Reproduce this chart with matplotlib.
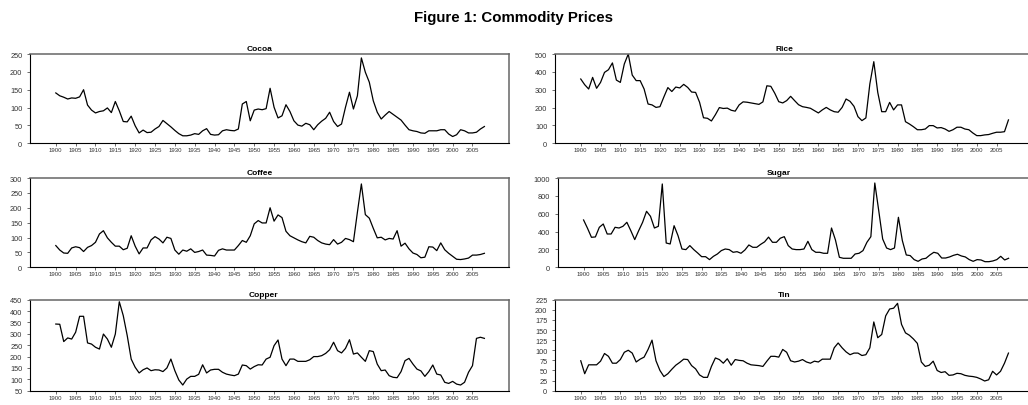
import numpy as np
import matplotlib
matplotlib.use("Agg")
import matplotlib.pyplot as plt

plt.rcParams['font.family'] = ['Liberation Sans', 'DejaVu Sans']

years = np.arange(1900, 2009)

cocoa = [141, 133, 129, 124, 127, 126, 130, 150, 107, 93,
         85, 89, 91, 99, 86, 117, 91, 61, 60, 76,
         49, 29, 37, 30, 31, 40, 47, 64, 55, 46,
         36, 27, 21, 21, 23, 27, 25, 35, 41, 25,
         23, 24, 35, 38, 36, 35, 40, 110, 117, 63,
         93, 96, 94, 97, 154, 101, 71, 77, 108, 89,
         63, 51, 48, 56, 52, 38, 52, 62, 70, 87,
         61, 47, 54, 101, 143, 96, 133, 239, 199, 171,
         119, 87, 68, 79, 89, 81, 73, 65, 51, 38,
         35, 33, 29, 28, 35, 35, 35, 38, 38, 26,
         19, 24, 38, 35, 29, 29, 31, 40, 47]

rice = [360, 328, 304, 369, 308, 341, 397, 412, 450, 354,
        341, 444, 500, 382, 351, 351, 304, 220, 215, 201,
        205, 260, 312, 290, 315, 310, 330, 313, 287, 285,
        230, 143, 140, 125, 160, 200, 195, 197, 185, 180,
        215, 232, 230, 226, 222, 218, 232, 322, 319, 280,
        233, 226, 239, 263, 239, 216, 205, 201, 196, 183,
        170, 187, 201, 187, 177, 174, 201, 248, 235, 207,
        149, 127, 142, 332, 457, 285, 177, 177, 229, 187,
        215, 215, 121, 108, 93, 76, 76, 80, 99, 99,
        86, 88, 80, 67, 76, 90, 90, 80, 76, 58,
        43, 43, 47, 49, 56, 62, 62, 65, 131]

coffee = [73, 58, 48, 47, 65, 69, 66, 53, 67, 73,
          84, 112, 123, 99, 84, 71, 71, 59, 64, 106,
          71, 45, 65, 65, 92, 103, 95, 82, 101, 97,
          58, 44, 58, 54, 62, 50, 53, 58, 41, 40,
          38, 57, 62, 58, 58, 58, 73, 90, 84, 106,
          146, 157, 149, 149, 200, 155, 176, 167, 121, 106,
          99, 92, 86, 82, 104, 101, 90, 82, 78, 76,
          93, 78, 84, 97, 93, 86, 185, 280, 177, 165,
          131, 99, 101, 92, 97, 95, 123, 71, 81, 62,
          48, 43, 32, 34, 69, 68, 56, 82, 59, 47,
          37, 27, 26, 28, 31, 41, 41, 43, 47]

sugar = [530, 437, 336, 340, 448, 485, 373, 373, 448, 440,
         459, 504, 410, 310, 410, 504, 627, 571, 440, 459,
         933, 272, 261, 466, 354, 205, 198, 243, 198, 160,
         119, 119, 86, 123, 149, 187, 205, 198, 168, 175,
         157, 194, 250, 224, 224, 257, 285, 338, 280, 280,
         326, 343, 243, 205, 198, 198, 205, 291, 198, 168,
         168, 157, 157, 440, 306, 112, 101, 101, 101, 149,
         157, 187, 280, 343, 944, 634, 317, 216, 198, 216,
         560, 299, 138, 131, 86, 67, 93, 101, 138, 168,
         157, 104, 104, 116, 134, 146, 127, 116, 86, 67,
         86, 82, 63, 63, 71, 86, 123, 82, 101]

copper = [343, 342, 266, 282, 277, 307, 377, 377, 260, 255,
          241, 233, 299, 277, 241, 299, 441, 380, 292, 189,
          153, 128, 142, 150, 138, 142, 141, 134, 150, 189,
          138, 97, 75, 101, 113, 113, 122, 164, 128, 141,
          144, 144, 131, 123, 119, 116, 123, 163, 160, 145,
          156, 164, 163, 189, 197, 248, 273, 189, 160, 189,
          189, 179, 179, 179, 186, 200, 200, 204, 214, 230,
          263, 226, 216, 236, 274, 211, 216, 197, 179, 226,
          222, 167, 138, 141, 116, 109, 107, 134, 182, 192,
          167, 145, 137, 113, 134, 163, 123, 119, 87, 82,
          91, 79, 75, 87, 131, 160, 280, 285, 280]

tin = [74, 42, 64, 64, 64, 73, 92, 85, 68, 68,
       77, 95, 100, 93, 71, 78, 83, 102, 125, 74,
       50, 35, 42, 53, 63, 70, 78, 77, 62, 54,
       39, 33, 33, 60, 81, 77, 68, 79, 63, 77,
       75, 74, 68, 64, 63, 62, 60, 73, 85, 85,
       83, 102, 95, 74, 71, 73, 77, 71, 68, 73,
       71, 78, 78, 78, 106, 118, 106, 96, 89, 93,
       93, 87, 89, 106, 170, 131, 139, 185, 202, 204,
       216, 164, 143, 137, 128, 117, 71, 60, 63, 73,
       50, 45, 47, 38, 39, 43, 42, 38, 36, 35,
       33, 29, 24, 27, 48, 39, 48, 68, 93]

W, H = 1028, 406

# name, values, (left, right, top, bottom) in pixels, y range, y step, title x
panels = [
    ("Cocoa", cocoa, (30, 509, 55, 144.3), (0, 250), 50, 260),
    ("Rice", rice, (555, 1033, 55, 144.3), (0, 500), 100, 784),
    ("Coffee", coffee, (30, 509, 179, 268.3), (0, 300), 50, 260),
    ("Sugar", sugar, (558, 1033, 179, 268.3), (0, 1000), 200, 779),
    ("Copper", copper, (30, 509, 300.7, 391.7), (50, 450), 50, 263),
    ("Tin", tin, (555, 1033, 300.7, 391.7), (0, 225), 25, 784),
]

fig = plt.figure(figsize=(W / 100, H / 100), dpi=100)
fig.text(0.5, 1 - 18 / H, "Figure 1: Commodity Prices", ha='center', va='center',
         fontsize=10.8, fontweight='bold')

for name, vals, (l, r, t, b), ylim, ystep, tx in panels:
    ax = fig.add_axes([l / W, 1 - b / H, (r - l) / W, (b - t) / H])
    ax.plot(years, vals, color='black', lw=0.9)
    ax.set_xlim(1893.5, 2014.2)
    ax.set_ylim(*ylim)
    ax.set_xticks(np.arange(1900, 2006, 5))
    ax.set_yticks(np.arange(ylim[0], ylim[1] + 1, ystep))
    ax.tick_params(axis='x', labelsize=4.3, length=2, width=0.5, pad=1, colors='#333333')
    ax.tick_params(axis='y', labelsize=5.3, length=2.5, width=0.5, pad=3, colors='#333333')
    for s in ['left', 'bottom']:
        ax.spines[s].set_color('black')
        ax.spines[s].set_linewidth(0.8)
    for s in ['top', 'right']:
        ax.spines[s].set_color('#666666')
        ax.spines[s].set_linewidth(1.1)
    fig.text(tx / W, 1 - (t - 5.5) / H, name, ha='center', va='center',
             fontsize=6, fontweight='bold')

fig.savefig("out.png", dpi=100)
